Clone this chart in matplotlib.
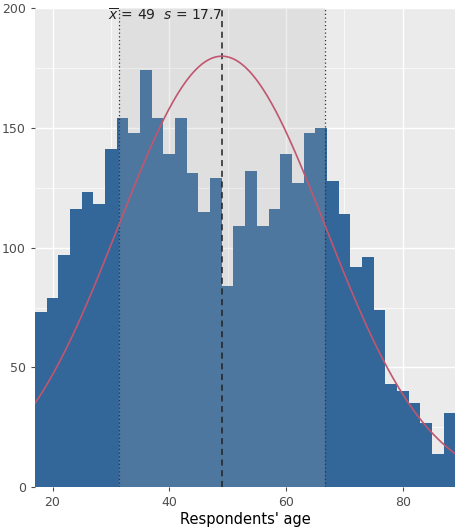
import numpy as np
import matplotlib
matplotlib.use("Agg")
import matplotlib.pyplot as plt

# histogram of respondents' age, bins of width 2 from 17 to 89
bin_edges = list(range(17, 90, 2))
counts = [73, 79, 97, 116, 123, 118, 141, 154, 148, 174, 154, 139, 154, 131,
          115, 129, 84, 109, 132, 109, 116, 139, 127, 148, 150, 128, 114, 92,
          96, 74, 43, 40, 35, 27, 14, 31]
mean_age = 49
sd_age = 17.7
n_resp = 3990

fig = plt.figure(figsize=(4.67, 5.28), dpi=100)
ax = fig.add_axes([0.075, 0.077, 0.9, 0.908])
ax.set_facecolor("#EBEBEB")

left = np.array(bin_edges[:-1])
ax.bar(left, counts, width=2, align="edge", color="#336699", zorder=2)

ax.axvspan(mean_age - sd_age, mean_age + sd_age, color="#B7B7B7", alpha=0.21,
           lw=0, zorder=3)
ax.axvline(mean_age - sd_age, color="#333333", ls=(0, (1, 2)), lw=0.9, zorder=4)
ax.axvline(mean_age + sd_age, color="#333333", ls=(0, (1, 2)), lw=0.9, zorder=4)
ax.axvline(mean_age, color="#222222", ls=(0, (4, 3)), lw=1.1, zorder=4)

grid = np.linspace(17, 89, 300)
dens = n_resp * 2 * np.exp(-0.5 * ((grid - mean_age) / sd_age) ** 2) / (sd_age * np.sqrt(2 * np.pi))
ax.plot(grid, dens, color="#C0566F", lw=1.2, zorder=5)

ax.text(mean_age, 197, r"$\overline{x}$ = 49  $s$ = 17.7", ha="right", va="center",
        fontsize=10, color="#222222", zorder=6)

ax.set_xlim(17, 89)
ax.set_ylim(0, 200)
ax.set_xticks([20, 40, 60, 80])
ax.set_yticks([0, 50, 100, 150, 200])
ax.set_xticks([30, 50, 70], minor=True)
ax.set_yticks([25, 75, 125, 175], minor=True)
ax.grid(which="major", color="white", lw=1.0, zorder=0)
ax.grid(which="minor", color="white", lw=0.5, zorder=0)
ax.set_axisbelow(True)
for s in ax.spines.values():
    s.set_visible(False)
ax.tick_params(which="major", colors="#4D4D4D", labelsize=9, length=3)
ax.tick_params(which="minor", length=0)
ax.set_xlabel("Respondents' age", fontsize=10.5, labelpad=2)
ax.set_ylabel("")

fig.savefig("out.png", dpi=100)
